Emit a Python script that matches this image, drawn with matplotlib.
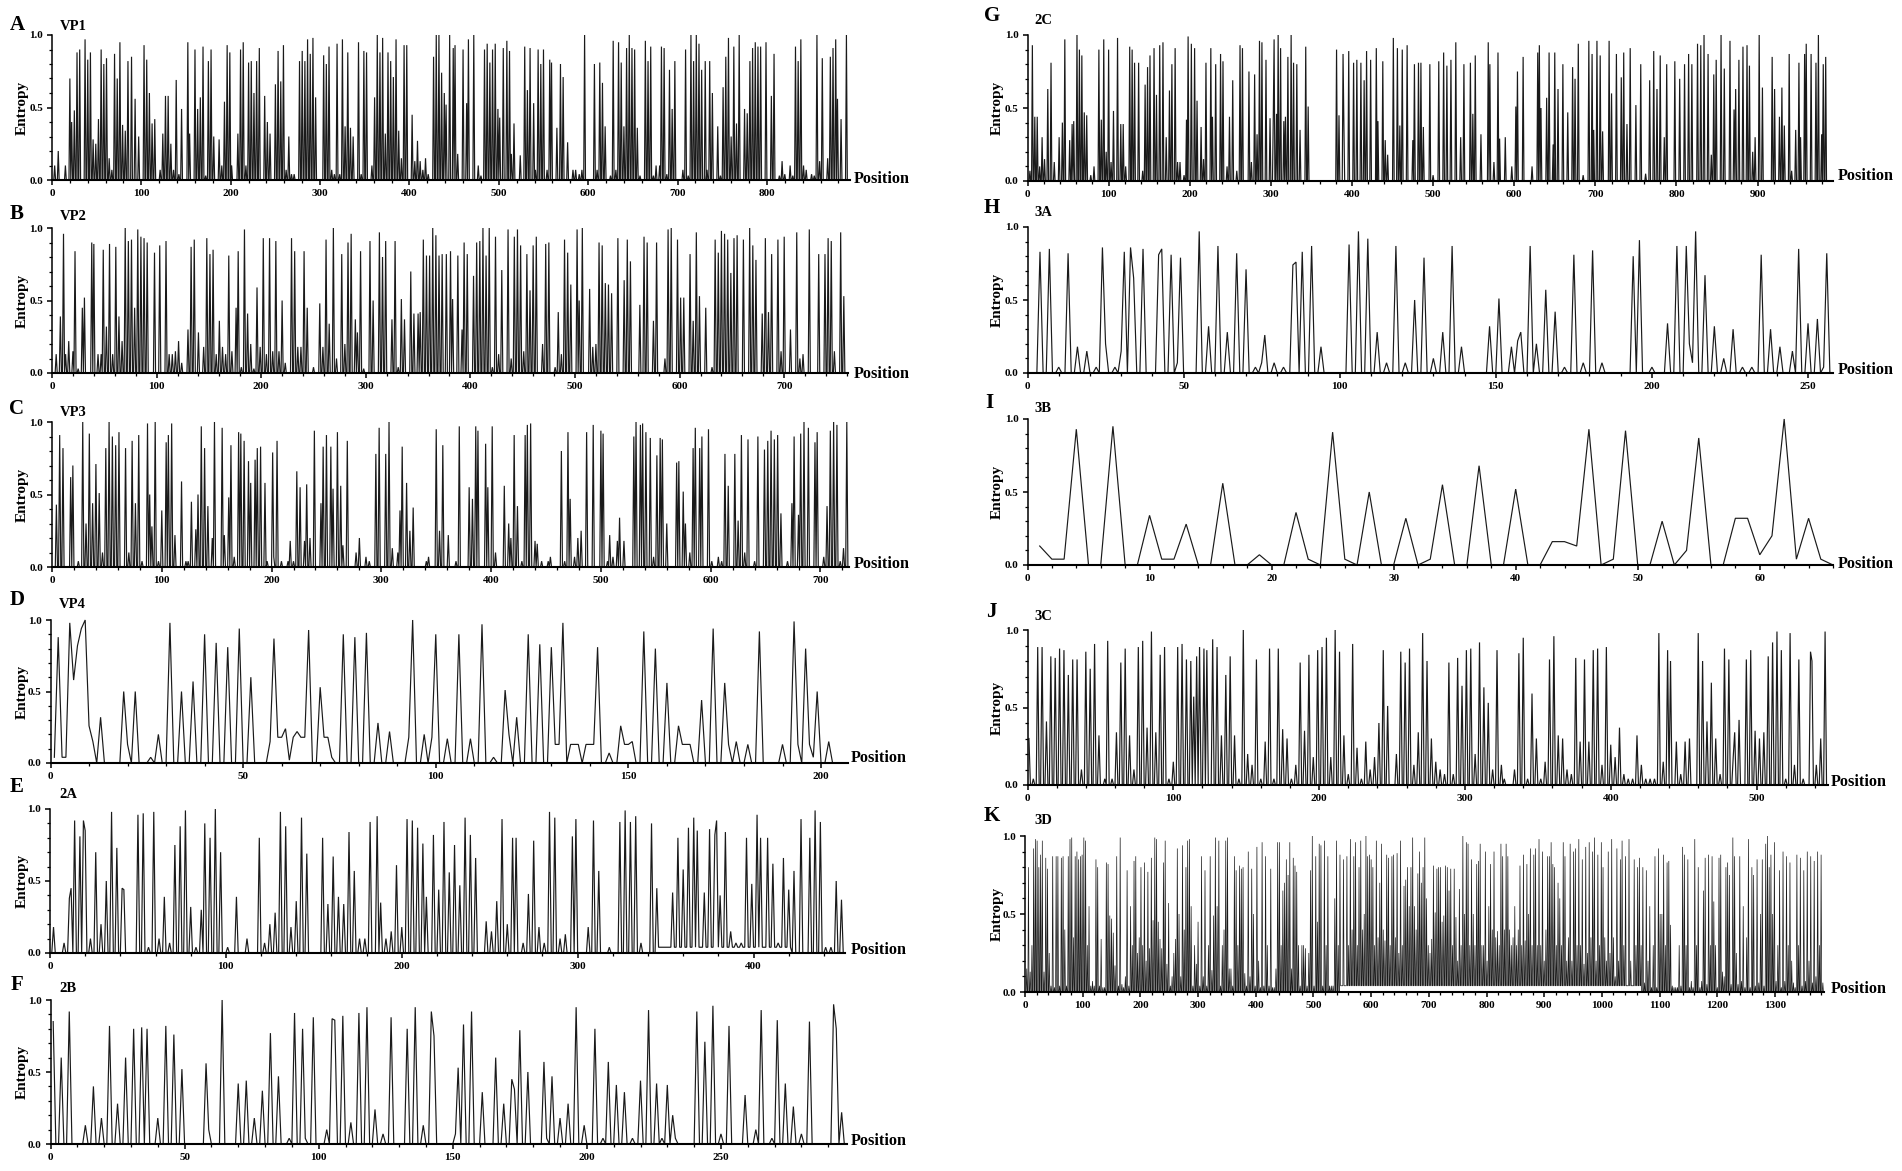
import numpy as np
import matplotlib
matplotlib.use('Agg')
import matplotlib.pyplot as plt
from matplotlib.ticker import MultipleLocator

plt.rcParams['font.family'] = ['Liberation Serif', 'DejaVu Serif']
plt.rcParams['font.weight'] = 'bold'

W, H = 1902, 1171

# (position, entropy), everything else sits on the baseline
vp1 = [(3,.1),(7,.2),(15,.1),(20,.7),(22,.4),(25,.48),(28,.88),(31,.9),(37,.97),(40,.83),(43,.88),(46,.28),(49,.25),(52,.42),(55,.9),(58,.8),(61,.84),(64,.15),(67,.07),(70,.87),(73,.7),(76,.95),(79,.38),(82,.34),(85,.82),(89,.85),(93,.56),(97,.3),(103,.93),(106,.83),(109,.6),(112,.39),(115,.42),(121,.07),(124,.32),(127,.58),(130,.58),(133,.25),(136,.07),(139,.69),(142,.04),(145,.49),(152,.95),(154,.32),(160,.9),(163,.49),(166,.57),(169,.92),(172,.03),(175,.82),(178,.9),(181,.3),(187,.28),(190,.1),(193,.54),(196,.93),(199,.88),(201,.1),(208,.32),(211,.9),(214,.95),(217,.1),(220,.81),(223,.82),(226,.6),(229,.82),(232,.91),(238,.58),(241,.4),(244,.32),(250,.66),(253,.89),(256,.68),(259,.93),(262,.07),(265,.3),(268,.04),(271,.04),(277,.82),(280,.89),(283,.82),(286,.97),(289,.87),(292,.98),(295,.57),(304,.86),(307,.8),(310,.92),(313,.07),(316,.04),(319,.94),(322,.04),(325,.97),(328,.37),(331,.88),(334,.36),(337,.3),(343,.95),(346,.04),(349,.89),(352,.88),(358,.1),(361,.57),(364,1),(367,.88),(370,.98),(373,.32),(376,.88),(379,.82),(382,.71),(385,.97),(388,.34),(391,.15),(394,.93),(397,.93),(403,.45),(406,.13),(409,.27),(412,.13),(415,.07),(418,.15),(421,.04),(427,.85),(430,1),(433,1),(436,.74),(439,.6),(441,.52),(445,1),(449,.91),(451,.93),(454,.18),(460,.9),(464,.53),(466,.97),(472,1),(477,.1),(480,.03),(484,.9),(487,.94),(490,.81),(493,.9),(496,.94),(499,.49),(501,.43),(505,.91),(509,.96),(512,.89),(514,.18),(517,.39),(524,.17),(529,.92),(532,.62),(535,.91),(539,.53),(541,.07),(544,.9),(547,.8),(550,.9),(554,.07),(557,.83),(559,.81),(565,.36),(569,.8),(572,.71),(577,.26),(583,.07),(586,.07),(590,.04),(593,.07),(596,1),(607,.8),(610,.07),(613,.81),(616,.67),(619,.37),(625,.03),(628,.96),(631,.07),(634,.95),(637,.81),(640,.37),(643,.91),(646,1),(649,.91),(652,.9),(655,.36),(658,.03),(664,.96),(667,.82),(670,.92),(673,.03),(676,.1),(680,.1),(682,.92),(685,.91),(688,.04),(691,.76),(694,.49),(697,.82),(706,.07),(709,.9),(712,.03),(715,1),(718,.82),(721,1),(724,.94),(727,.76),(731,.82),(733,.07),(736,.82),(739,.6),(745,.37),(748,.03),(751,.64),(754,.85),(757,.98),(760,.3),(763,.92),(766,.39),(769,1),(775,.49),(778,.46),(781,.82),(784,.91),(787,.95),(790,.92),(793,.92),(799,.95),(805,.58),(808,.87),(814,.03),(817,.13),(820,.04),(826,.1),(829,.03),(832,.92),(835,.82),(838,.97),(841,.1),(844,.07),(850,.04),(853,.03),(856,1),(859,.13),(862,.84),(868,.15),(871,.85),(874,.91),(877,.97),(879,.56),(883,.42),(889,1)]

vp2 = [(4,.13),(8,.39),(11,.96),(13,.13),(16,.22),(20,.15),(22,.84),(25,.03),(29,.45),(31,.52),(38,.9),(40,.89),(44,.13),(47,.13),(49,.85),(52,.32),(55,.89),(58,.13),(61,.87),(64,.39),(67,.22),(70,1),(73,.91),(76,.92),(79,.45),(82,.99),(85,.94),(88,.93),(91,.9),(98,.83),(103,.88),(109,.91),(112,.13),(115,.13),(118,.15),(121,.22),(124,.07),(130,.3),(133,.87),(136,.92),(140,.28),(145,.18),(148,.93),(151,.82),(154,.85),(157,.13),(160,.36),(163,.18),(166,.13),(169,.81),(172,.15),(176,.45),(178,.84),(181,.04),(184,.99),(187,.41),(190,.2),(193,.03),(196,.59),(199,.18),(202,.93),(205,.13),(208,.93),(211,.15),(214,.91),(217,.15),(220,.5),(223,.07),(229,.93),(232,.84),(235,.18),(238,.18),(241,.84),(244,.45),(250,.04),(256,.48),(259,.18),(262,.92),(265,.34),(269,1),(272,.1),(277,.82),(280,.2),(283,.9),(286,.96),(290,.37),(292,.28),(295,.84),(298,.03),(304,.91),(307,.5),(313,.97),(316,.8),(319,.91),(325,.37),(328,.91),(331,.04),(334,.51),(337,.37),(343,.7),(346,.41),(350,.41),(352,.42),(355,.92),(358,.81),(361,.81),(364,1),(367,.95),(370,.81),(373,.82),(377,.82),(381,.84),(383,.51),(388,.81),(392,.3),(394,.9),(397,.82),(403,.67),(406,.9),(409,.91),(412,1),(415,.81),(418,1),(421,.04),(424,.94),(427,.13),(430,.71),(436,.99),(439,.1),(442,.94),(445,.99),(448,.88),(451,.15),(454,.82),(457,.57),(460,.88),(463,.94),(469,.2),(472,.89),(475,.9),(481,.04),(484,.42),(487,.13),(490,.92),(493,.83),(496,.61),(502,.99),(504,.5),(507,1),(514,.58),(517,.18),(520,.2),(523,.9),(526,.88),(529,.62),(532,.61),(535,.55),(541,.93),(547,.64),(550,.92),(553,.77),(562,.47),(566,.94),(569,.9),(575,.36),(578,.9),(586,.1),(589,.99),(592,1),(598,.92),(601,.52),(604,.52),(610,.82),(613,.36),(616,.97),(619,.53),(625,.45),(631,.04),(634,.92),(637,.83),(640,.98),(643,.96),(646,.92),(649,.69),(652,.93),(655,.95),(661,.92),(667,1),(670,.88),(673,.78),(679,.41),(682,.93),(685,.42),(688,.82),(694,.92),(697,.15),(700,.94),(706,.3),(712,.97),(715,.1),(718,.13),(724,.99),(733,.82),(739,.82),(742,.93),(745,.91),(748,.15),(754,.97),(757,.53)]

vp3 = [(4,.43),(7,.91),(10,.82),(17,.62),(19,.7),(24,.04),(28,1),(31,.3),(34,.92),(37,.44),(40,.71),(43,.51),(46,.1),(49,.82),(52,1),(55,.9),(58,.84),(61,.93),(67,.82),(70,.1),(73,.87),(76,.44),(79,.91),(82,.04),(87,.99),(89,.5),(91,.28),(94,1),(97,.04),(100,.39),(104,.86),(106,.91),(109,.99),(112,.22),(118,.59),(122,.04),(124,.04),(127,.45),(131,.26),(133,.5),(136,.97),(139,.82),(142,.42),(146,.2),(148,1),(155,.96),(157,.22),(161,.48),(163,.84),(166,.07),(170,.93),(172,.92),(175,.87),(179,.73),(181,.58),(185,.74),(187,.82),(190,.83),(194,.58),(196,.04),(201,.79),(202,.07),(205,.87),(209,.04),(215,.04),(217,.18),(220,.04),(223,.66),(226,.55),(230,.18),(232,.57),(235,.2),(239,.94),(245,.44),(247,.83),(250,.91),(254,.83),(256,.54),(260,.93),(263,.56),(265,.15),(269,.87),(277,.1),(280,.2),(286,.07),(289,.04),(295,.78),(298,.96),(304,.78),(307,1),(310,.13),(315,.1),(317,.39),(319,.83),(323,.58),(326,.25),(329,.41),(341,.04),(343,.07),(350,.95),(353,.25),(356,.84),(361,.22),(368,.04),(371,.97),(380,.55),(383,.47),(386,.97),(388,.94),(395,.85),(397,.55),(401,.97),(404,.1),(412,.56),(416,.3),(418,.2),(421,.91),(424,.42),(428,.04),(431,.91),(433,.98),(436,.99),(440,.18),(442,.16),(446,.04),(452,.04),(454,.07),(464,.8),(467,.04),(470,.93),(472,.47),(476,.07),(479,.2),(482,.25),(487,.93),(493,.98),(500,.94),(502,.92),(506,.04),(508,.22),(511,.07),(515,.18),(517,.34),(521,.18),(530,.9),(532,1),(536,.98),(538,.99),(541,.93),(545,.89),(548,.07),(551,.77),(554,.89),(556,.88),(560,.3),(569,.72),(571,.73),(575,.52),(577,.3),(581,.1),(584,.82),(586,.96),(590,.82),(592,.9),(598,.95),(601,.04),(607,.07),(610,.04),(613,.78),(616,.56),(622,.78),(625,.32),(628,.91),(631,.1),(634,.88),(640,.04),(643,.9),(649,.81),(652,.87),(655,.94),(658,.88),(661,.91),(664,.37),(670,.04),(674,.44),(676,.9),(680,.36),(682,.92),(685,1),(689,.96),(695,.86),(697,.93),(703,.07),(706,.42),(709,.94),(712,1),(715,.98),(718,.04),(721,.13),(724,1)]

vp4 = [(1,.04),(2,.88),(3,.04),(4,.04),(5,.98),(6,.58),(7,.82),(8,.94),(9,1),(10,.26),(11,.15),(13,.32),(19,.5),(20,.13),(22,.5),(26,.04),(28,.2),(31,.98),(34,.5),(37,.57),(40,.9),(43,.84),(46,.81),(49,.94),(52,.6),(57,.15),(58,.87),(59,.18),(60,.18),(61,.24),(62,.02),(63,.18),(64,.22),(65,.18),(66,.18),(67,.93),(70,.53),(71,.18),(72,.18),(73,.04),(76,.9),(79,.88),(82,.91),(85,.28),(88,.22),(93,.18),(94,1),(97,.2),(99,.18),(100,.9),(103,.17),(106,.9),(109,.17),(112,.97),(115,.04),(118,.51),(119,.2),(121,.32),(124,.9),(127,.83),(130,.81),(131,.13),(132,.13),(133,.98),(135,.13),(136,.13),(137,.13),(139,.13),(140,.13),(141,.13),(142,.81),(145,.07),(148,.26),(149,.13),(150,.13),(151,.15),(154,.92),(157,.8),(160,.56),(163,.26),(164,.13),(165,.13),(166,.13),(169,.44),(172,.94),(175,.56),(176,.13),(178,.15),(181,.13),(184,.92),(190,.13),(193,.99),(194,.13),(196,.8),(197,.13),(198,.04),(199,.5),(202,.15)]

p2a = [(2,.18),(8,.07),(11,.38),(12,.45),(14,.92),(17,.81),(19,.92),(20,.85),(23,.1),(26,.7),(29,.2),(32,.5),(35,.98),(38,.73),(41,.45),(42,.44),(50,.96),(53,.97),(56,.04),(59,.98),(62,.1),(65,.39),(68,.07),(71,.75),(74,.88),(77,.99),(80,.32),(83,.04),(86,.3),(88,.9),(91,.8),(94,1),(97,.7),(101,.04),(106,.39),(112,.1),(119,.8),(122,.07),(125,.2),(128,.28),(131,.98),(134,.88),(137,.18),(140,.36),(143,.94),(146,.69),(155,.8),(158,.34),(161,.67),(164,.39),(167,.34),(170,.84),(173,.57),(176,.1),(179,.1),(182,.91),(186,.95),(188,.35),(191,.1),(194,.15),(197,.61),(200,.18),(203,.93),(206,.92),(209,.87),(212,.76),(214,.39),(218,.82),(221,.44),(224,.91),(227,.56),(230,.75),(233,.47),(236,.94),(239,.82),(242,.66),(248,.22),(251,.15),(254,.36),(257,.93),(260,.2),(263,.8),(265,.8),(269,.07),(272,.41),(275,.78),(278,.18),(281,.07),(284,.98),(287,.94),(290,.1),(293,.13),(297,.81),(299,.93),(306,.18),(309,.92),(312,.57),(318,.04),(324,.91),(327,.99),(330,.91),(333,.95),(336,.07),(342,.9),(345,.45),(354,.42),(357,.8),(360,.58),(363,.87),(366,.94),(368,.85),(372,.42),(375,.86),(378,.82),(379,.92),(381,.4),(384,.84),(387,.15),(390,.07),(393,.07),(396,.8),(399,.48),(402,.96),(404,.8),(408,.8),(411,.62),(414,.07),(417,.66),(420,.44),(423,.57),(427,.93),(432,.8),(435,.99),(438,.91),(441,.04),(444,.04),(447,.5),(450,.37)]
p2a_floor = (345, 421, .04)

p2b = [(1,.85),(4,.6),(7,.92),(13,.13),(16,.4),(19,.18),(22,.82),(25,.28),(28,.6),(31,.8),(34,.81),(36,.8),(40,.18),(43,.82),(46,.76),(49,.52),(58,.56),(59,.1),(64,1),(70,.42),(73,.44),(76,.18),(79,.37),(82,.77),(85,.47),(89,.04),(91,.91),(94,.8),(95,.04),(98,.88),(103,.1),(105,.87),(106,.86),(109,.89),(112,.15),(115,.91),(118,.95),(121,.24),(124,.07),(127,.88),(133,.8),(136,.95),(139,.13),(142,.92),(143,.75),(151,.07),(152,.53),(154,.83),(157,.92),(161,.36),(166,.6),(169,.28),(172,.45),(173,.38),(175,.79),(178,.5),(184,.57),(185,.04),(187,.47),(190,.18),(193,.28),(196,.95),(199,.13),(203,.8),(206,.04),(208,.57),(211,.41),(214,.36),(217,.04),(220,.44),(223,.93),(226,.42),(228,.04),(230,.41),(232,.2),(233,.04),(241,.92),(244,.71),(247,.96),(250,.07),(253,.82),(259,.34),(263,.1),(265,.93),(269,.04),(271,.86),(274,.42),(277,.26),(280,.07),(283,.85),(292,.97),(293,.8),(295,.22)]

p2c = [(3,.07),(6,.93),(9,.44),(12,.44),(15,.1),(18,.3),(21,.15),(25,.63),(29,.81),(33,.13),(39,.3),(43,.4),(46,.97),(52,.28),(55,.39),(57,.41),(61,1),(64,.9),(67,.86),(70,.47),(73,.45),(78,.04),(82,.1),(88,.9),(91,.42),(94,.97),(97,.2),(100,.9),(103,.13),(106,.48),(111,.98),(115,.39),(118,.39),(121,.1),(126,.92),(129,.9),(132,.81),(137,.81),(142,.07),(145,.66),(148,.78),(151,.86),(156,.91),(159,.59),(163,.93),(167,.95),(171,.3),(175,.62),(178,.8),(182,.91),(185,.13),(188,.13),(193,.04),(196,.42),(198,.99),(202,.94),(206,.91),(209,.55),(214,.37),(217,.15),(220,.81),(226,.91),(228,.44),(232,.8),(238,.87),(241,.82),(246,.1),(249,.44),(253,.69),(258,.07),(262,.93),(265,.91),(273,.75),(276,.13),(280,.73),(283,.32),(286,.96),(289,.95),(294,.83),(299,.43),(303,.44),(304,.97),(307,.46),(309,1),(312,.91),(316,.41),(318,.44),(321,.85),(325,1),(328,.81),(332,.8),(336,.35),(343,.92),(346,.51),(381,.9),(384,.45),(389,.87),(390,.4),(396,.89),(402,.81),(406,.83),(411,.81),(415,.69),(418,.89),(423,.83),(430,.91),(432,.41),(438,.82),(441,.28),(444,.18),(451,.98),(456,.91),(459,.38),(462,.9),(468,.93),(475,.28),(477,.8),(482,.81),(485,.81),(488,.37),(496,.8),(500,.04),(507,.82),(513,.88),(517,.79),(522,.83),(528,.95),(534,.3),(538,.8),(546,.81),(549,.46),(552,.86),(559,.32),(568,.95),(570,.8),(575,.13),(580,.88),(582,.29),(589,.3),(597,.1),(602,.51),(604,.75),(611,.85),(622,.1),(629,.88),(631,.93),(633,.5),(640,.57),(643,.88),(648,.25),(650,.88),(654,.63),(660,.8),(666,.47),(672,.78),(675,.7),(679,.94),(685,.04),(692,.96),(696,.87),(698,.35),(702,.96),(706,.86),(709,.34),(717,.96),(720,.6),(726,.87),(732,.71),(735,.88),(739,.39),(743,.91),(750,.52),(756,.8),(762,.05),(767,.69),(772,.89),(776,.63),(780,.86),(785,.3),(788,.8),(798,.82),(804,.7),(810,.8),(815,.87),(819,.8),(826,.94),(830,.93),(834,1),(839,.87),(843,.18),(846,.73),(849,.83),(855,1),(859,.77),(866,.96),(871,.49),(873,.63),(877,.83),(882,.92),(887,.93),(890,.79),(894,.2),(897,.3),(902,1),(906,.64),(918,.85),(921,.63),(927,.44),(930,.64),(933,.38),(939,.87),(942,.07),(947,.35),(951,.81),(953,.3),(958,.87),(960,.94),(966,.87),(972,.81),(975,1),(979,.32),(981,.8),(984,.85)]

p3a = [(4,.83),(7,.85),(10,.04),(13,.82),(16,.18),(19,.15),(22,.04),(24,.86),(25,.2),(28,.04),(30,.15),(31,.83),(33,.86),(34,.65),(37,.85),(42,.81),(43,.85),(46,.81),(48,.07),(49,.79),(55,.97),(58,.32),(61,.87),(64,.28),(67,.82),(70,.71),(73,.04),(75,.07),(76,.26),(79,.07),(82,.04),(85,.74),(86,.76),(88,.83),(91,.87),(94,.18),(103,.88),(106,.97),(109,.92),(112,.28),(115,.07),(118,.87),(121,.07),(124,.5),(127,.79),(130,.1),(133,.28),(136,.87),(139,.18),(148,.32),(151,.51),(155,.18),(157,.22),(158,.28),(161,.87),(163,.2),(166,.57),(169,.42),(172,.04),(175,.81),(178,.07),(181,.84),(184,.07),(194,.8),(196,.91),(200,.04),(205,.34),(208,.87),(211,.87),(212,.2),(213,.07),(214,.97),(217,.67),(220,.32),(223,.1),(226,.3),(229,.04),(232,.04),(235,.81),(238,.3),(241,.18),(245,.15),(247,.85),(250,.34),(253,.37),(255,.04),(256,.82)]

p3b = [.13,.04,.04,.93,0,0,.95,0,0,.34,.04,.04,.28,0,0,.56,0,0,.07,0,0,.36,.04,0,.91,.04,0,.5,0,0,.32,0,.04,.55,0,0,.68,0,0,.52,0,0,.16,.16,.13,.93,0,.04,.92,0,0,.3,0,.1,.87,0,0,.32,.32,.07,.2,1,.04,.32,.04,0]

p3c = [(1,.3),(4,.04),(7,.89),(10,.89),(13,.41),(16,.83),(19,.82),(22,.88),(25,.87),(28,.71),(31,.81),(34,.81),(37,.1),(40,.86),(43,.75),(46,.91),(49,.32),(53,.04),(55,.93),(58,.04),(61,.34),(64,.79),(67,.88),(70,.32),(73,.1),(76,.89),(79,.93),(82,.37),(85,.99),(88,.34),(91,.84),(94,.89),(97,.04),(100,.15),(103,.89),(106,.91),(109,.81),(112,.8),(114,.57),(116,.83),(118,.89),(121,.88),(123,.87),(127,.94),(130,.89),(133,.32),(136,.71),(139,.83),(142,.32),(145,.04),(148,1),(151,.2),(154,.13),(157,.81),(160,.04),(163,.28),(166,.88),(169,.04),(172,.88),(175,.36),(178,.3),(181,.04),(184,.13),(187,.79),(190,.35),(193,.84),(196,.18),(199,.87),(202,.89),(205,.95),(208,.18),(211,1),(214,.86),(217,.32),(220,.07),(223,.91),(226,.24),(229,.04),(232,.28),(235,.1),(238,.18),(241,.4),(244,.87),(247,.51),(253,.2),(256,.86),(259,.79),(262,.88),(265,.13),(268,.34),(271,.98),(274,.8),(277,.3),(280,.15),(283,.1),(286,.07),(289,.79),(292,.07),(295,.82),(298,.64),(301,.87),(304,.88),(307,.2),(310,.92),(313,.63),(316,.53),(319,.1),(322,.87),(325,.13),(327,.04),(334,.1),(337,.85),(340,.95),(343,.04),(346,.59),(349,.3),(352,.04),(355,.15),(358,.81),(361,.96),(364,.32),(367,.3),(370,.1),(373,.07),(376,.82),(379,.28),(382,.81),(385,.28),(388,.87),(391,.88),(394,.13),(397,.89),(400,.26),(403,.18),(406,.37),(409,.07),(412,.04),(415,.04),(418,.32),(421,.13),(424,.04),(427,.04),(430,.04),(433,.98),(436,.15),(439,.87),(441,.8),(445,.28),(448,.07),(451,.28),(454,.3),(460,.98),(463,.8),(466,.41),(469,.66),(472,.3),(475,.07),(478,.88),(481,.81),(484,.18),(485,.34),(488,.42),(493,.81),(496,.87),(499,.35),(502,.3),(505,.34),(508,.83),(511,.92),(514,.99),(517,.87),(520,.04),(523,.98),(526,.13),(529,.81),(532,.04),(537,.86),(538,.8),(541,.13),(544,.3),(547,.99)]

# 3D is too tight to separate positions, values taken every third position
p3d_vals = [.15,.8,.13,.3,.92,.98,.97,.8,.88,.97,.13,.86,.79,.25,.04,.87,.03,.87,.87,.04,.86,.87,.4,.04,.87,.98,.99,.35,.87,.9,.85,.87,.88,
    .99,.97,.3,.55,.04,.07,.04,.85,.8,.04,.34,.03,.03,.83,.82,.49,.47,.38,.17,.87,.04,.99,.05,.03,.1,.78,.04,.55,.3,.84,.87,.25,.35,
    .8,.3,.83,.2,.77,.28,.86,.46,.99,.98,.45,.34,.28,.83,.97,.18,.57,.04,.1,.25,.34,.92,.5,.1,.94,.4,.8,.97,.98,.55,.04,.3,.18,
    .45,.04,.87,.1,.78,.04,.3,.87,.14,.49,.99,.55,.97,.04,.3,.4,.97,.99,.15,.15,.04,.87,.78,.3,.81,.79,.8,.12,.04,.9,.1,.79,.5,
    .04,.93,.2,.03,.96,.04,.87,.3,.04,.79,.03,.03,.15,.96,.96,.3,.65,.7,.85,.75,.96,.15,.86,.81,.77,.3,.04,.3,.3,.28,.04,.25,.78,
    1.0,.04,.87,.45,.95,.94,.04,.97,.3,.87,.04,.04,.04,.6,.97,.3,.88,.04,.85,.04,.87,.3,.98,.4,.87,.96,.3,.8,.97,.4,.5,1.0,.87,
    .88,.85,.8,.3,.97,.35,.7,.95,.4,.33,.88,.86,.3,.87,.88,.35,.89,.25,.97,.3,.68,.72,.8,.55,.8,.99,.55,.4,.76,.9,.7,.8,.99,
    .6,.3,.25,.34,.81,.51,.79,.8,.8,.45,.49,.81,.8,.65,.79,.3,.79,.48,.2,.66,.3,1.0,.5,.96,.95,.3,.85,.5,.3,.82,.84,.95,.3,
    .3,.9,.2,.55,.82,.4,.9,.35,.39,.3,.95,.87,.4,.95,.87,.4,.3,.35,.55,.3,.4,.81,.3,.88,.33,.82,.5,.92,.3,.88,.92,.3,.98,
    .3,.9,.2,.4,.87,.87,.96,.82,.8,.3,.7,.6,.3,.96,.87,.2,.35,.95,.2,.9,.92,.3,.98,.3,.85,.18,.93,.25,.96,.35,.9,.99,.2,
    .88,.3,.96,.8,.35,.2,.9,.25,.98,.35,.1,.92,.2,.85,.97,.3,.87,.04,.98,.2,.04,.85,.3,.8,.86,.3,.8,.06,.78,.2,.55,.03,.3,
    .87,.03,.92,.5,.5,.88,.3,.83,.84,.43,.04,.03,.03,.03,.3,.04,.93,.88,.3,.85,.03,.07,.03,.98,.3,.8,.03,.07,.65,.86,.05,.88,.3,
    .87,.58,.3,.03,.86,.88,.13,.1,.8,.83,.75,.05,.99,.87,.25,.05,.87,.07,.55,.03,.35,.98,.03,.8,.75,.04,.85,.06,.5,.85,.04,.95,1.0,
    .8,.88,.5,.96,.07,.3,.78,.03,.9,.07,.87,.3,.83,.2,.06,.03,.88,.3,.86,.04,.78,.07,.9,.2,.87,.06,.84,.1,.9,.3,.88,.06,.83]
p3d = [(3 * (i + 1), v) for i, v in enumerate(p3d_vals)]
p3d_floor = (545, 1068, .04)

p3b_points = [(i + 1, v) for i, v in enumerate(p3b)]

fig = plt.figure(figsize=(W / 100, H / 100), dpi=100)


def series(peaks, xmax, floor=None):
    x = np.arange(1, xmax + 1)
    y = np.zeros(xmax)
    if floor:
        y[floor[0]:floor[1]] = floor[2]
    for p, v in peaks:
        if p <= xmax:
            y[p - 1] = v
    return x, y


# letter, title, data, floor, xmax, major, minor, x0, x1, ytop, ybot, letter xy, title xy, position label xy
panels = [
    ('A', 'VP1', vp1, None, 893, 100, 20, 52, 850, 35, 180, (17, 25), (60, 26), (854, 179)),
    ('B', 'VP2', vp2, None, 761, 100, 20, 52, 848, 228, 373, (17, 214), (60, 217), (854, 374)),
    ('C', 'VP3', vp3, None, 726, 100, 20, 52, 849, 422, 567, (17, 409), (60, 413), (854, 564)),
    ('D', 'VP4', vp4, None, 207, 50, 10, 50.5, 848, 620, 763, (17, 600), (59, 604), (851, 758)),
    ('E', '2A', p2a, p2a_floor, 452, 100, 20, 50, 845, 809, 953, (17, 787), (59, 795), (851, 950)),
    ('F', '2B', p2b, None, 297, 50, 10, 50.5, 847, 1000, 1144, (17, 985), (59, 989), (851, 1141)),
    ('G', '2C', p2c, None, 993, 100, 20, 1027.5, 1833, 35, 181, (992, 16), (1034, 20), (1838, 176)),
    ('H', '3A', p3a, None, 258, 50, 10, 1027.5, 1833, 227, 373, (992, 208), (1034, 212), (1838, 370)),
    ('I', '3B', p3b_points, None, 66, 10, 2, 1027.5, 1833, 419, 565, (989, 403), (1034, 409), (1838, 564)),
    ('J', '3C', p3c, None, 549, 100, 20, 1027.5, 1828, 630, 785, (991, 612), (1034, 617), (1831, 782)),
    ('K', '3D', p3d, p3d_floor, 1385, 100, 20, 1025, 1824, 836, 992, (992, 816), (1034, 820), (1831, 989)),
]

for letter, title, peaks, floor, xmax, major, minor, x0, x1, ytop, ybot, lxy, txy, pxy in panels:
    ax = fig.add_axes([x0 / W, 1 - ybot / H, (x1 - x0) / W, (ybot - ytop) / H])
    x, y = series(peaks, xmax, floor)
    lw = 0.5 if xmax > 1000 else 0.85
    ax.plot(x, y, color='#1a1a1a', lw=lw, clip_on=False, solid_joinstyle='miter')
    ax.set_xlim(0, xmax)
    ax.set_ylim(0, 1)
    ax.spines['top'].set_visible(False)
    ax.spines['right'].set_visible(False)
    ax.spines['left'].set_linewidth(1.1)
    ax.spines['bottom'].set_linewidth(1.5)
    ax.xaxis.set_major_locator(MultipleLocator(major))
    ax.xaxis.set_minor_locator(MultipleLocator(minor))
    ax.yaxis.set_major_locator(MultipleLocator(0.5))
    ax.yaxis.set_minor_locator(MultipleLocator(0.1))
    ax.tick_params(which='major', length=3.5, width=1.1, labelsize=8, pad=3)
    ax.tick_params(which='minor', length=2.2, width=0.9)
    ax.set_yticks([0, 0.5, 1.0])
    ax.set_yticklabels(['0.0', '0.5', '1.0'])

    fig.text(lxy[0] / W, 1 - lxy[1] / H, letter, fontsize=15, ha='center', va='center')
    fig.text(txy[0] / W, 1 - txy[1] / H, title, fontsize=10.5, ha='left', va='center')
    fig.text(pxy[0] / W, 1 - pxy[1] / H, 'Position', fontsize=11.7, ha='left', va='center')
    ex = 22 if x0 < 500 else 997
    fig.text(ex / W, 1 - (ytop + ybot) / 2 / H, 'Entropy', fontsize=11, rotation=90, ha='center', va='center')

fig.savefig('out.png', dpi=100)
